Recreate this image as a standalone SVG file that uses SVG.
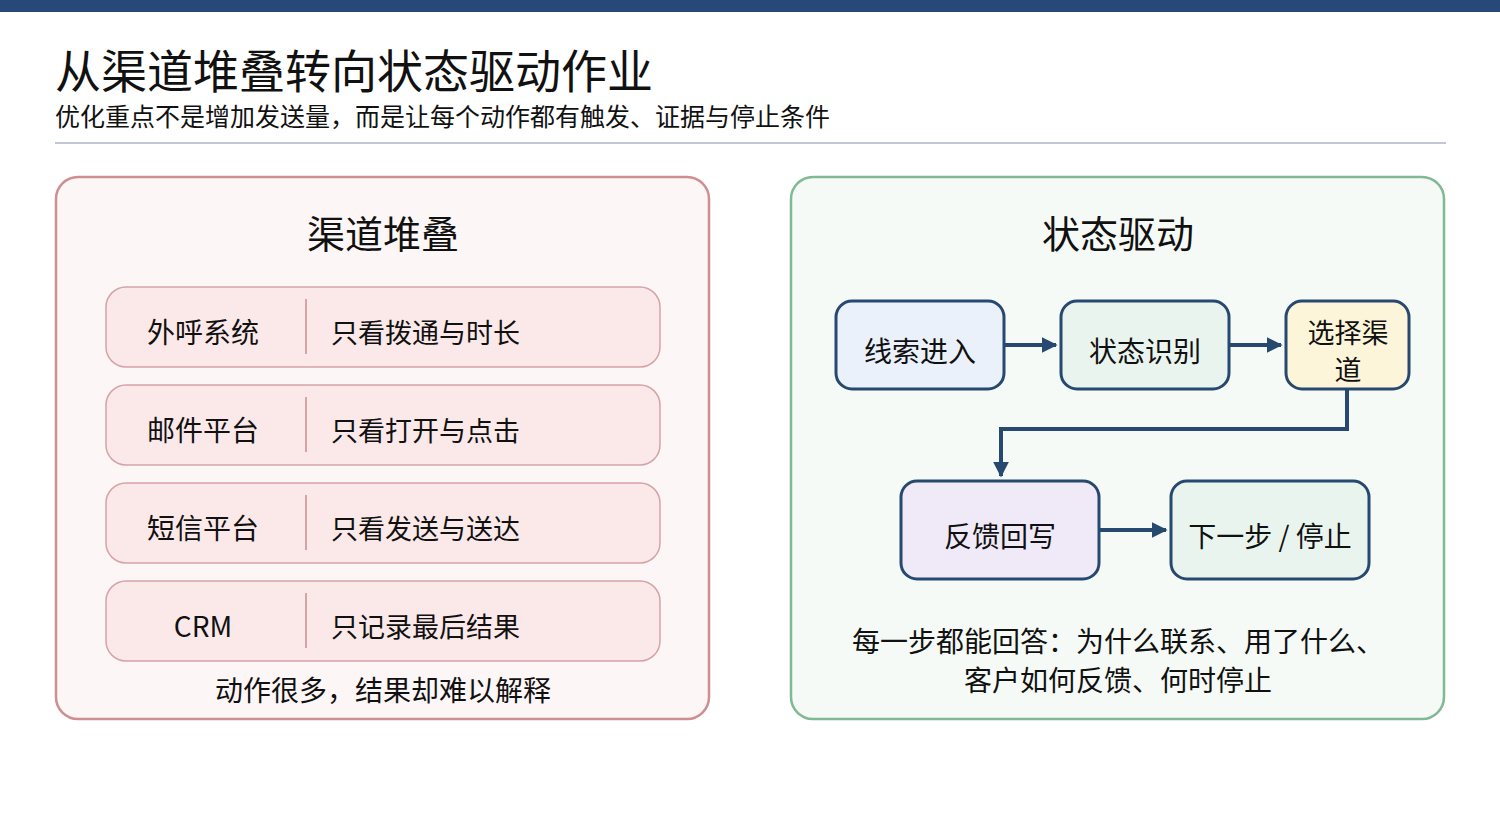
<svg xmlns="http://www.w3.org/2000/svg" width="1500" height="820" viewBox="0 0 1500 820">
<style>
text{font-family:"Noto Sans CJK SC","Noto Sans",sans-serif;fill:#111}
.row{fill:#fbe9ea;stroke:#d6a3a6;stroke-width:1.5}
.sep{stroke:#d6a3a6;stroke-width:2}
.t26{font-size:28px}
.t27{font-size:27px}
.n{stroke:#27496f;stroke-width:3}
.c{stroke:#27496f;stroke-width:4;fill:none}
</style>
<defs><marker id="ah" viewBox="0 0 10 10" refX="9" refY="5" markerWidth="4" markerHeight="4" orient="auto"><path d="M0,0L10,5L0,10z" fill="#27496f"/></marker></defs>
<rect width="1500" height="820" fill="#fff"/>
<rect width="1500" height="12" fill="#26497a"/>
<text x="55" y="88" font-size="46">从渠道堆叠转向状态驱动作业</text>
<text x="55" y="126" font-size="25">优化重点不是增加发送量，而是让每个动作都有触发、证据与停止条件</text>
<line x1="55" y1="143" x2="1446" y2="143" stroke="#c0c8d4" stroke-width="2"/>
<g id="left">
<rect x="56" y="177" width="653" height="542" rx="22" fill="#fdf6f6" stroke="#cf8e91" stroke-width="2.5"/>
<text x="383" y="248" font-size="38" text-anchor="middle">渠道堆叠</text>
</g>
<g id="row1"><rect class="row" x="106" y="287" width="554" height="80" rx="20"/><line class="sep" x1="306" y1="299" x2="306" y2="354"/><text class="t26" x="203" y="343" text-anchor="middle">外呼系统</text><text class="t27" x="331" y="343">只看拨通与时长</text></g>
<g id="row2"><rect class="row" x="106" y="385" width="554" height="80" rx="20"/><line class="sep" x1="306" y1="397" x2="306" y2="452"/><text class="t26" x="203" y="441" text-anchor="middle">邮件平台</text><text class="t27" x="331" y="441">只看打开与点击</text></g>
<g id="row3"><rect class="row" x="106" y="483" width="554" height="80" rx="20"/><line class="sep" x1="306" y1="495" x2="306" y2="550"/><text class="t26" x="203" y="539" text-anchor="middle">短信平台</text><text class="t27" x="331" y="539">只看发送与送达</text></g>
<g id="row4"><rect class="row" x="106" y="581" width="554" height="80" rx="20"/><line class="sep" x1="306" y1="593" x2="306" y2="648"/><text class="t26" x="203" y="637" text-anchor="middle">CRM</text><text class="t27" x="331" y="637">只记录最后结果</text></g>
<text class="t26" x="383" y="701" text-anchor="middle">动作很多，结果却难以解释</text>
<g id="right">
<rect x="791" y="177" width="653" height="542" rx="22" fill="#f5faf6" stroke="#82b894" stroke-width="2.5"/>
<text x="1118" y="248" font-size="38" text-anchor="middle">状态驱动</text>
</g>
<g id="connectors">
<path class="c" d="M1005,345H1056" marker-end="url(#ah)"/>
<path class="c" d="M1230,345H1281" marker-end="url(#ah)"/>
<path class="c" d="M1347,390V429H1001V476" marker-end="url(#ah)"/>
<path class="c" d="M1100,530H1166" marker-end="url(#ah)"/>
</g>
<g id="n1"><rect class="n" x="836" y="301" width="168" height="88" rx="16" fill="#eaf1fa"/><text class="t26" x="920" y="362" text-anchor="middle">线索进入</text></g>
<g id="n2"><rect class="n" x="1061" y="301" width="168" height="88" rx="16" fill="#eaf4ee"/><text class="t26" x="1145" y="362" text-anchor="middle">状态识别</text></g>
<g id="n3"><rect class="n" x="1286" y="301" width="123" height="88" rx="16" fill="#fdf5d9"/><text class="t27" x="1348" y="343" text-anchor="middle">选择渠</text><text class="t27" x="1348" y="380" text-anchor="middle">道</text></g>
<g id="n4"><rect class="n" x="901" y="481" width="198" height="98" rx="16" fill="#f0eaf8"/><text class="t26" x="1000" y="547" text-anchor="middle">反馈回写</text></g>
<g id="n5"><rect class="n" x="1171" y="481" width="198" height="98" rx="16" fill="#eaf4ee"/><text class="t26" x="1270" y="547" text-anchor="middle">下一步 / 停止</text></g>
<text class="t26" x="1118" y="652" text-anchor="middle">每一步都能回答：为什么联系、用了什么、</text>
<text class="t26" x="1118" y="691" text-anchor="middle">客户如何反馈、何时停止</text>
</svg>
